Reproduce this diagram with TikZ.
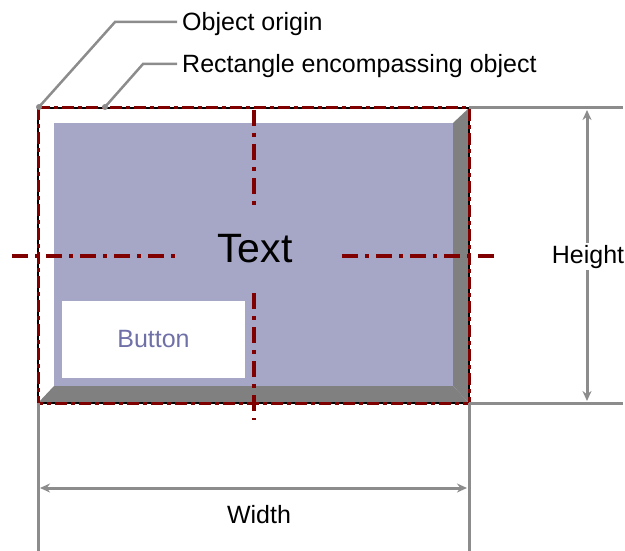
\documentclass[tikz,border=0pt]{standalone}
\usepackage{fontspec}
\setmainfont{Liberation Sans}
\usetikzlibrary{arrows.meta}
\definecolor{panel}{RGB}{166,166,198}
\definecolor{bevel}{RGB}{128,128,128}
\definecolor{dimgray}{RGB}{140,140,140}
\definecolor{axisred}{RGB}{128,0,0}
\definecolor{btntext}{RGB}{112,112,168}
\begin{document}
\begin{tikzpicture}[x=1pt,y=-1pt,
	dimline/.style={dimgray,line width=3pt},
	dimarrow/.style={dimgray,line width=3pt,{Stealth[length=10pt,width=9pt]}-{Stealth[length=10pt,width=9pt]}},
	centerline/.style={axisred,line width=3.5pt,dash pattern=on 16pt off 7pt on 4pt off 7pt},
	frameline/.style={axisred,line width=3pt,dash pattern=on 12pt off 4pt on 4pt off 4pt},
	leader/.style={dimgray,line width=2.5pt},
	lbl/.style={font=\fontsize{25}{28}\selectfont,inner sep=2pt}]
	\useasboundingbox (0,0) rectangle (625,551);
	\fill[white] (38,108) rectangle (469,403);
	\fill[panel] (54,123) rectangle (453,386);
	\fill[bevel] (453,123) -- (469,108) -- (469,403) -- (453,386) -- cycle;
	\fill[bevel] (38,403) -- (54,386) -- (453,386) -- (469,403) -- cycle;
	\node[fill=white,minimum width=183pt,minimum height=77pt,inner sep=0pt,lbl,text=btntext] (button) at (153.5,339.5) {Button};
	\node[font=\fontsize{41}{44}\selectfont,inner sep=0pt] (caption) at (255,249) {Text};
	\draw[centerline] (12,256) -- (178,256);
	\draw[centerline] (342,256) -- (495,256);
	\draw[centerline] (254,110) -- (254,209);
	\draw[centerline] (254,293) -- (254,420);
	\draw[black,line width=1.2pt] (38,108) rectangle (469,403);
	\draw[frameline] (38,108) rectangle (469,403);
	\draw[dimline] (469,108) -- (623,108);
	\draw[dimline] (469,403) -- (623,403);
	\draw[dimline] (38,403) -- (38,551);
	\draw[dimline] (469,403) -- (469,551);
	\coordinate (htop) at (587,110);
	\coordinate (hbot) at (587,401);
	\coordinate (wleft) at (40,488);
	\coordinate (wright) at (467,488);
	\draw[dimarrow] (htop) -- (hbot);
	\draw[dimarrow] (wleft) -- (wright);
	\node[lbl,fill=white,anchor=base] (heightlbl) at (588,263) {Height};
	\node[lbl,anchor=base] (widthlbl) at (259,523) {Width};
	\node[lbl,anchor=base west] (originlbl) at (180,31) {Object origin};
	\node[lbl,anchor=base west] (rectlbl) at (180,73) {Rectangle encompassing object};
	\coordinate (origin) at (39,107);
	\coordinate (rectpt) at (105,107);
	\draw[leader] (origin) -- (115,22) -- ([xshift=-3pt,yshift=9pt]originlbl.base west);
	\draw[leader] (rectpt) -- (143,64) -- ([xshift=-3pt,yshift=9pt]rectlbl.base west);
	\fill[dimgray] (origin) circle (3pt);
	\fill[dimgray] (rectpt) circle (3pt);
\end{tikzpicture}
\end{document}
